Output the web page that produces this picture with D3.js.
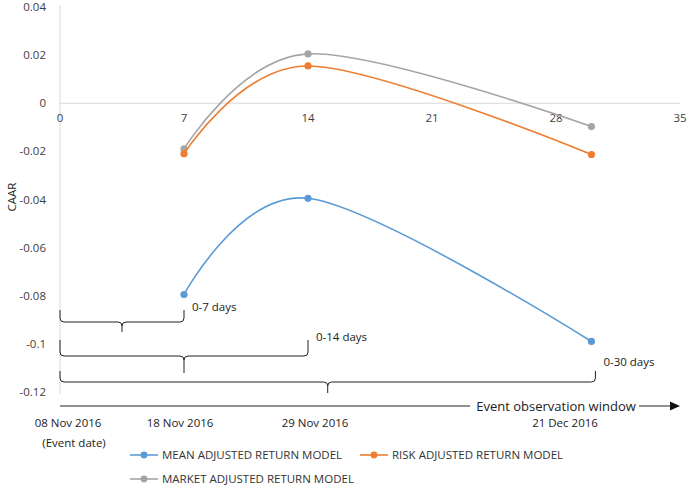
<!DOCTYPE html>
<html><head><meta charset="utf-8">
<script src="https://cdn.jsdelivr.net/npm/d3@7"></script>
<style>body{margin:0;background:#fff}svg{display:block;font-family:"Open Sans",sans-serif}</style>
</head><body>
<svg id="c" width="688" height="485"></svg>
<script>
const days = [7, 14, 30];
const meanAdj = [-0.0795, -0.0395, -0.099];
const riskAdj = [-0.021, 0.0155, -0.0213];
const marketAdj = [-0.019, 0.0205, -0.0097];
const xTicks = [0, 7, 14, 21, 28, 35];
const yTicks = [0.04, 0.02, 0, -0.02, -0.04, -0.06, -0.08, -0.1, -0.12];
const windows = [{end: 7, label: "0-7 days"}, {end: 14, label: "0-14 days"}, {end: 30, label: "0-30 days"}];
const dateLabels = ["08 Nov 2016", "18 Nov 2016", "29 Nov 2016", "21 Dec 2016"];
const seriesNames = ["MEAN ADJUSTED RETURN MODEL", "RISK ADJUSTED RETURN MODEL", "MARKET ADJUSTED RETURN MODEL"];
const colors = ["#5B9BD5", "#ED7D31", "#A5A5A5"];

const svg = d3.select("#c");
const x = d3.scaleLinear().domain([0, 35]).range([60, 680]);
const y = d3.scaleLinear().domain([-0.12, 0.04]).range([392, 7]);
const txt = "#404040";

svg.append("line").attr("x1", x(0)).attr("x2", x(35)).attr("y1", y(0)).attr("y2", y(0))
  .attr("stroke", "#D9D9D9").attr("stroke-width", 1);
svg.append("line").attr("x1", x(0)).attr("x2", x(0)).attr("y1", y(0.04) - 2).attr("y2", y(-0.12) + 2)
  .attr("stroke", "#D9D9D9").attr("stroke-width", 1);

svg.selectAll(".yt").data(yTicks).join("text")
  .attr("x", 46).attr("y", d => y(d)).attr("dy", "0.35em").attr("text-anchor", "end")
  .attr("font-size", 11.5).attr("fill", txt)
  .text(d => d === 0 ? "0" : String(+d.toFixed(2)));
svg.selectAll(".xt").data(xTicks).join("text")
  .attr("x", d => x(d)).attr("y", y(0) + 19).attr("text-anchor", "middle")
  .attr("font-size", 11.5).attr("fill", txt).text(d => d);

svg.append("text").attr("transform", `translate(16,${y(-0.039)}) rotate(-90)`)
  .attr("text-anchor", "middle").attr("font-size", 11.5).attr("fill", "#222").text("CAAR");

const data = [meanAdj, riskAdj, marketAdj];
const line = d3.line().x((d, i) => x(days[i])).y(d => y(d)).curve(d3.curveCardinal.tension(0));
[2, 1, 0].forEach(s => {
  svg.append("path").attr("d", line(data[s])).attr("fill", "none")
    .attr("stroke", colors[s]).attr("stroke-width", 1.6);
  svg.selectAll(".p" + s).data(data[s]).join("circle")
    .attr("cx", (d, i) => x(days[i])).attr("cy", d => y(d)).attr("r", 3.6).attr("fill", colors[s]);
});

const braceTop = [310, 340, 371];
const braceMid = [322, 356, 382];
const braceTip = [332, 373, 393];
function brace(x0, x1, yt, ym, yb) {
  const r = 4, xm = (x0 + x1) / 2;
  return `M${x0},${yt} L${x0},${ym - r} Q${x0},${ym} ${x0 + r},${ym} L${xm - r},${ym} Q${xm},${ym} ${xm},${ym + r} L${xm},${yb}` +
         ` M${xm},${ym + r} Q${xm},${ym} ${xm + r},${ym} L${x1 - r},${ym} Q${x1},${ym} ${x1},${ym - r} L${x1},${yt}`;
}
windows.forEach((w, i) => {
  const xe = x(w.end) + (i === 2 ? 4 : 0);
  svg.append("path").attr("d", brace(x(0), xe, braceTop[i], braceMid[i], braceTip[i]))
    .attr("fill", "none").attr("stroke", "#222").attr("stroke-width", 1);
  svg.append("text").attr("x", xe + 8).attr("y", braceTop[i] - 3 + (i === 2 ? -6 : 0)).attr("dy", "0.35em")
    .attr("font-size", 11.5).attr("fill", "#222").text(w.label);
});

const arrowY = 406;
svg.append("line").attr("x1", x(0)).attr("x2", 470).attr("y1", arrowY).attr("y2", arrowY)
  .attr("stroke", "#222").attr("stroke-width", 1);
svg.append("text").attr("x", 556).attr("y", arrowY).attr("dy", "0.35em").attr("text-anchor", "middle")
  .attr("font-size", 13).attr("fill", "#222").text("Event observation window");
svg.append("line").attr("x1", 639).attr("x2", 672).attr("y1", arrowY).attr("y2", arrowY)
  .attr("stroke", "#222").attr("stroke-width", 1);
svg.append("path").attr("d", `M680,${arrowY} L670,${arrowY - 4.5} L670,${arrowY + 4.5} Z`).attr("fill", "#111");

const dateX = [68, 180, 315, 565];
svg.selectAll(".dl").data(dateLabels).join("text")
  .attr("x", (d, i) => dateX[i]).attr("y", 427).attr("text-anchor", "middle")
  .attr("font-size", 11.5).attr("fill", "#222").text(d => d);
svg.append("text").attr("x", 74).attr("y", 447).attr("text-anchor", "middle")
  .attr("font-size", 11.5).attr("fill", "#222").text("(Event date)");

const legPos = [[130, 455], [360, 455], [130, 479]];
seriesNames.forEach((n, i) => {
  const [lx, ly] = legPos[i];
  const g = svg.append("g");
  g.append("line").attr("x1", lx).attr("x2", lx + 28).attr("y1", ly).attr("y2", ly)
    .attr("stroke", colors[i]).attr("stroke-width", 1.6);
  g.append("circle").attr("cx", lx + 14).attr("cy", ly).attr("r", 3.4).attr("fill", colors[i]);
  g.append("text").attr("x", lx + 32).attr("y", ly).attr("dy", "0.35em")
    .attr("font-size", 11.5).attr("fill", "#333").text(n);
});
</script>
</body></html>
